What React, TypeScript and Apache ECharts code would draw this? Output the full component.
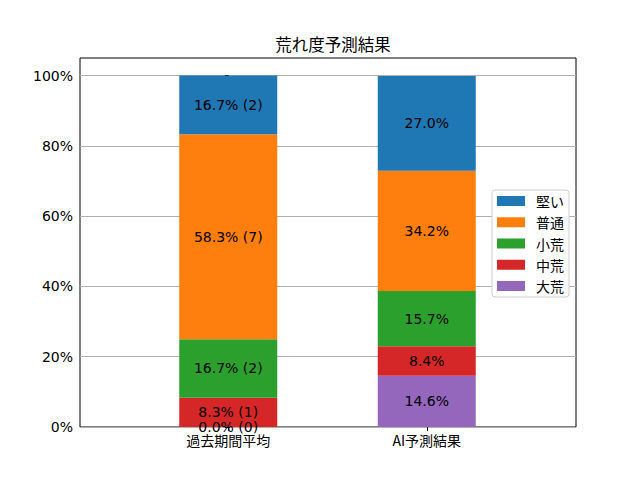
import React, { useEffect, useRef } from "react";
import * as echarts from "echarts";

const categories = ["過去期間平均", "AI予測結果"];
// stack order bottom -> top
const seriesNames = ["大荒", "中荒", "小荒", "普通", "堅い"];
const colors = ["#9467bd", "#d62728", "#2ca02c", "#ff7f0e", "#1f77b4"];
const pastValues = [0.0, 8.3, 16.7, 58.3, 16.7];
const pastCounts = [0, 1, 2, 7, 2];
const aiValues = [14.6, 8.4, 15.7, 34.2, 27.0];
const yTicks = [0, 20, 40, 60, 80, 100];
const legendOrder = ["堅い", "普通", "小荒", "中荒", "大荒"];

const NUM_FONT = "DejaVu Sans, Noto Sans CJK JP, sans-serif";
const CJK_FONT = "Noto Sans CJK JP, DejaVu Sans, sans-serif";

export default function App() {
  const ref = useRef<HTMLDivElement>(null);
  useEffect(() => {
    if (!ref.current) return;
    const chart = echarts.init(ref.current, null, { renderer: "svg" });
    const series = seriesNames.map((name, i) => ({
      name,
      type: "bar",
      stack: "total",
      xAxisIndex: 1,
      yAxisIndex: 1,
      barWidth: 98,
      itemStyle: { color: colors[i] },
      z: 3,
      label: {
        show: true,
        position: "inside",
        color: "#000",
        fontSize: 14,
        fontFamily: NUM_FONT,
        formatter: (p: any) =>
          p.dataIndex === 0
            ? `${pastValues[i].toFixed(1)}% (${pastCounts[i]})`
            : `${aiValues[i].toFixed(1)}%`,
      },
      data: [pastValues[i], aiValues[i]],
    }));
    chart.setOption({
      animation: false,
      title: {
        text: "荒れ度予測結果",
        left: 328,
        top: 31,
        textAlign: "center",
        textStyle: { fontSize: 16.5, fontWeight: "normal", color: "#000", fontFamily: CJK_FONT },
      },
      legend: {
        data: legendOrder,
        orient: "vertical",
        left: 492,
        top: 190,
        icon: "rect",
        itemWidth: 28,
        itemHeight: 10,
        itemGap: 7.25,
        padding: [4, 5, 4, 5],
        backgroundColor: "#fff",
        borderColor: "#cccccc",
        borderWidth: 1,
        borderRadius: 3,
        textStyle: {
          fontSize: 14,
          lineHeight: 14,
          color: "#000",
          fontFamily: CJK_FONT,
          padding: [0, 0, 0, 6],
        },
      },
      grid: [
        { left: 80, right: 64, top: 58, bottom: 53, show: true, borderColor: "#000", borderWidth: 1, backgroundColor: "transparent" },
        { left: 129, width: 397, top: 58, bottom: 53 },
      ],
      xAxis: [
        { type: "value", gridIndex: 0, min: -0.75, max: 1.75, show: false },
        {
          type: "category",
          gridIndex: 1,
          data: categories,
          axisLine: { show: false },
          axisTick: { show: true, alignWithLabel: true, length: 4, lineStyle: { color: "#000" } },
          axisLabel: { fontSize: 14, color: "#000", fontFamily: CJK_FONT, margin: 6 },
        },
      ],
      yAxis: [
        {
          type: "value",
          gridIndex: 0,
          min: 0,
          max: 105,
          interval: 20,
          axisLine: { show: false },
          axisTick: { show: true, length: 4, lineStyle: { color: "#000" }, customValues: yTicks },
          axisLabel: {
            fontSize: 14,
            color: "#000",
            fontFamily: NUM_FONT,
            margin: 7,
            customValues: yTicks,
            formatter: (v: number) => (v > 100 ? "" : `${v}%`),
          },
          splitLine: { show: true, lineStyle: { color: "#b0b0b0", width: 1 } },
        },
        { type: "value", gridIndex: 1, min: 0, max: 105, show: false },
      ],
      series,
    });
    return () => chart.dispose();
  }, []);
  return (
    <div
      ref={ref}
      style={{ position: "absolute", left: 0, top: 0, width: 640, height: 480 }}
    />
  );
}
